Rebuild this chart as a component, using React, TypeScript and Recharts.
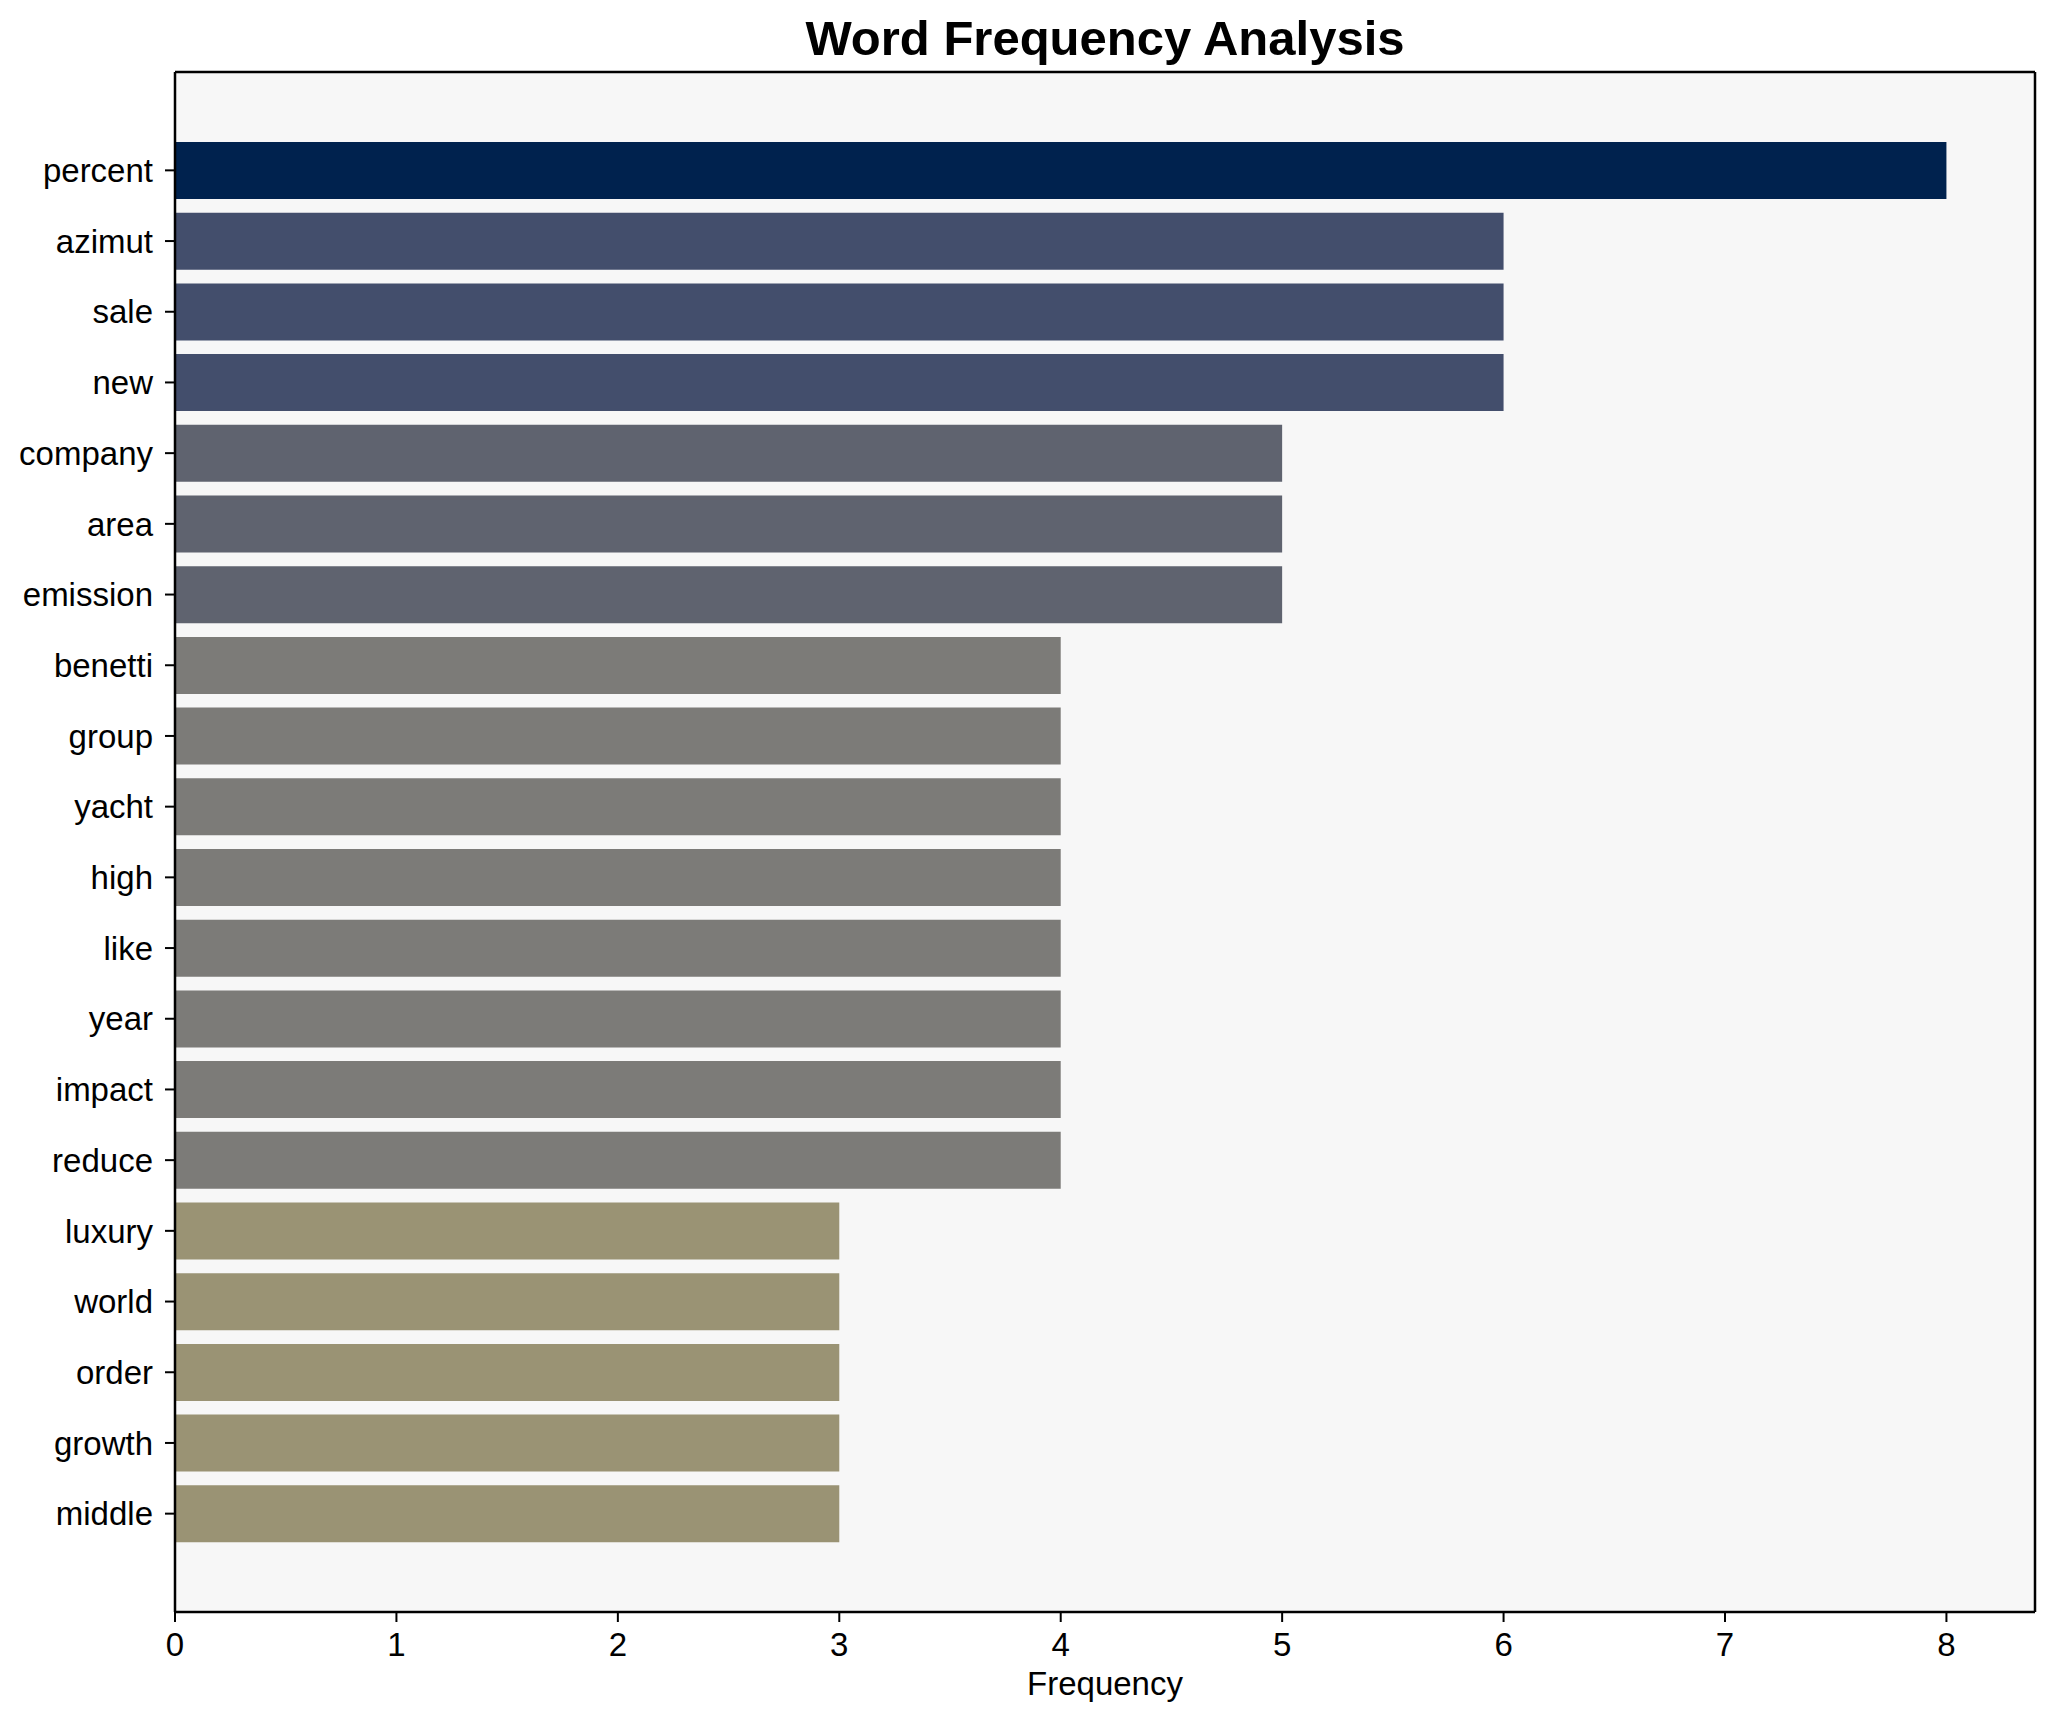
import { Bar, BarChart, CartesianGrid, Cell, XAxis, YAxis } from "recharts";

const WORDS = [
  "percent",
  "azimut",
  "sale",
  "new",
  "company",
  "area",
  "emission",
  "benetti",
  "group",
  "yacht",
  "high",
  "like",
  "year",
  "impact",
  "reduce",
  "luxury",
  "world",
  "order",
  "growth",
  "middle",
];

const COUNTS = [8, 6, 6, 6, 5, 5, 5, 4, 4, 4, 4, 4, 4, 4, 4, 3, 3, 3, 3, 3];

const X_TICKS = [0, 1, 2, 3, 4, 5, 6, 7, 8];

// colour by count (cividis-like shades)
const COUNT_COLORS: Record<number, string> = {
  8: "#00224e",
  6: "#434e6c",
  5: "#5f636f",
  4: "#7c7b78",
  3: "#9a9374",
};

const FONT = "'Liberation Sans', Arial, Helvetica, sans-serif";

const chartData = WORDS.map((word, i) => ({ word, count: COUNTS[i] }));

const tickStyle = { fill: "#000000", fontSize: 33, fontFamily: FONT };

type GridArgs = { offset: { top: number; left: number; width: number; height: number } };

export default function App() {
  return (
    <div style={{ position: "absolute", left: 0, top: 0, width: 2054, height: 1722, background: "#ffffff" }}>
      <div
        style={{
          position: "absolute",
          left: 175,
          top: 14,
          width: 1860,
          textAlign: "center",
          fontFamily: FONT,
          fontWeight: "bold",
          fontSize: 49,
          lineHeight: "49px",
          color: "#000000",
        }}
      >
        Word Frequency Analysis
      </div>
      <BarChart
        width={2054}
        height={1722}
        data={chartData}
        layout="vertical"
        margin={{ top: 72, right: 19, left: 0, bottom: 0 }}
      >
        {/* plot background plus the top and right edges of the frame */}
        <CartesianGrid
          fill="#f7f7f7"
          stroke="#000000"
          strokeWidth={2.5}
          horizontalCoordinatesGenerator={({ offset }: GridArgs) => [offset.top]}
          verticalCoordinatesGenerator={({ offset }: GridArgs) => [offset.left + offset.width]}
        />
        <XAxis
          type="number"
          domain={[0, 8.4]}
          ticks={X_TICKS}
          allowDataOverflow
          height={110}
          tickSize={10}
          tickMargin={11}
          tick={tickStyle}
          axisLine={{ stroke: "#000000", strokeWidth: 2.5 }}
          tickLine={{ stroke: "#000000", strokeWidth: 2 }}
          label={{
            value: "Frequency",
            position: "insideBottom",
            offset: 27,
            style: { fill: "#000000", fontSize: 33, fontFamily: FONT },
          }}
        />
        <YAxis
          type="category"
          dataKey="word"
          width={175}
          padding={{ top: 63, bottom: 63 }}
          tickSize={10}
          tickMargin={12}
          tick={tickStyle}
          interval={0}
          axisLine={{ stroke: "#000000", strokeWidth: 2.5 }}
          tickLine={{ stroke: "#000000", strokeWidth: 2 }}
        />
        <Bar dataKey="count" barSize={57} isAnimationActive={false}>
          {chartData.map((item) => (
            <Cell key={item.word} fill={COUNT_COLORS[item.count]} />
          ))}
        </Bar>
      </BarChart>
    </div>
  );
}
